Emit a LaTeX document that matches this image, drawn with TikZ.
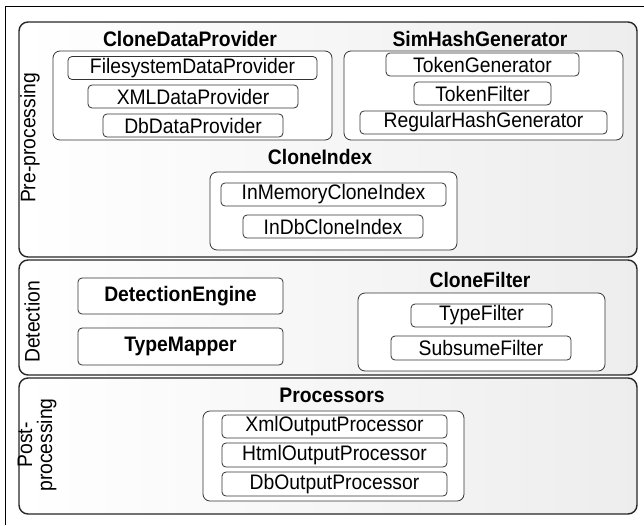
\documentclass[tikz,border=0pt]{standalone}
\usepackage{fontspec}
\setmainfont[FakeStretch=0.92]{Liberation Sans}
\usetikzlibrary{shapes,positioning}

\begin{document}
\begin{tikzpicture}[x=1pt,y=-1pt]
  \tikzstyle{layer}=[draw=black!85, line width=1.4pt, rounded corners=9pt, left color=white, right color=black!7, inner sep=0pt]
  \tikzstyle{group}=[draw=black!80, line width=0.8pt, rounded corners=7pt, fill=white, inner sep=0pt]
  \tikzstyle{part}=[draw=black!80, line width=0.8pt, rounded corners=4pt, fill=white, inner sep=0pt, minimum height=23pt, font=\fontsize{21}{22}\selectfont]
  \tikzstyle{title}=[font=\fontsize{21}{22}\selectfont\bfseries]
  \tikzstyle{lbl}=[rotate=90, align=center, font=\fontsize{21}{20}\selectfont]

  \useasboundingbox (0,0) rectangle (644,525);

  % Rahmen
  \coordinate (fa) at (5,525);
  \coordinate (fb) at (5,6);
  \coordinate (fc) at (644,6);
  \draw[line width=1pt] (fa) -- (fb) -- (fc);

  % Schichten
  \node[layer, minimum width=618pt, minimum height=235pt] (pre) at (328,139.5) {};
  \node[layer, minimum width=618pt, minimum height=115pt] (det) at (328,317.5) {};
  \node[layer, minimum width=618pt, minimum height=136pt] (post) at (328,446) {};

  \node[lbl] (prelbl) at (30,138) {Pre-processing};
  \node[lbl] (detlbl) at (32,322) {Detection};
  \node[lbl] (postlbl) at (37,445) {Post-\\processing};

  % Pre-processing
  \node[title] (cdpt) at (190,39) {CloneDataProvider};
  \node[group, minimum width=279pt, minimum height=89pt] (cdp) at (192.5,95.5) {};
  \node[part, minimum width=249pt] (fsdp) at (192.5,68) {FilesystemDataProvider};
  \node[part, minimum width=210pt] (xmldp) at (193,96.5) {XMLDataProvider};
  \node[part, minimum width=180pt] (dbdp) at (193,125.5) {DbDataProvider};

  \node[title] (shgt) at (480,39) {SimHashGenerator};
  \node[group, minimum width=279pt, minimum height=89pt] (shg) at (483.5,95.5) {};
  \node[part, minimum width=193pt] (tgen) at (482.5,64.5) {TokenGenerator};
  \node[part, minimum width=137pt] (tflt) at (482.5,93.5) {TokenFilter};
  \node[part, minimum width=247pt] (rhg) at (483.5,122.5) {RegularHashGenerator};

  \node[title] (cidxt) at (320,157) {CloneIndex};
  \node[group, minimum width=247pt, minimum height=78pt] (cidx) at (333.5,211) {};
  \node[part, minimum width=225pt] (imci) at (333.5,194.5) {InMemoryCloneIndex};
  \node[part, minimum width=180pt] (idci) at (333,226.5) {InDbCloneIndex};

  % Detection
  \node[part, title, minimum width=205pt, minimum height=36pt] (deteng) at (180.5,296) {DetectionEngine};
  \node[part, title, minimum width=205pt, minimum height=37pt] (tmap) at (180.5,346.5) {TypeMapper};

  \node[title] (cfltt) at (480,280) {CloneFilter};
  \node[group, minimum width=247pt, minimum height=78pt] (cflt) at (481.5,332) {};
  \node[part, minimum width=141pt] (typeflt) at (481.5,315.5) {TypeFilter};
  \node[part, minimum width=180pt, minimum height=24pt] (subflt) at (481,348) {SubsumeFilter};

  % Post-processing
  \node[title] (proct) at (332,395) {Processors};
  \node[group, minimum width=261pt, minimum height=90pt] (proc) at (333.5,456) {};
  \node[part, minimum width=225pt] (xmlop) at (334.5,426.5) {XmlOutputProcessor};
  \node[part, minimum width=225pt, minimum height=24pt] (htmlop) at (334.5,455) {HtmlOutputProcessor};
  \node[part, minimum width=225pt, minimum height=24pt] (dbop) at (334.5,484) {DbOutputProcessor};
\end{tikzpicture}
\end{document}
